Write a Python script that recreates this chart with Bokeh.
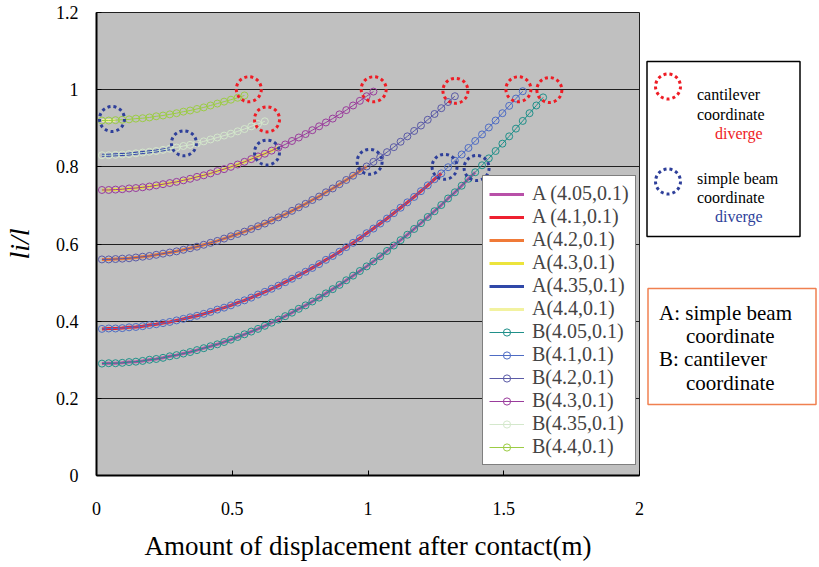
from bokeh.plotting import figure
from bokeh.layouts import row
from bokeh.models import Range1d, FixedTicker, Legend, LegendItem, Label, BoxAnnotation
from bokeh.embed import file_html
from bokeh.resources import INLINE

# ---------------- data ----------------
disp = [0.020, 0.045, 0.070, 0.095, 0.120, 0.145, 0.170, 0.195, 0.220, 0.245,
        0.270, 0.295, 0.320, 0.345, 0.370, 0.395, 0.420, 0.445, 0.470, 0.495,
        0.520, 0.545, 0.570, 0.595, 0.620, 0.645, 0.670, 0.695, 0.720, 0.745,
        0.770, 0.795, 0.820, 0.845, 0.870, 0.895, 0.920, 0.945, 0.970, 0.995,
        1.020, 1.045, 1.070, 1.095, 1.120, 1.145, 1.170, 1.195, 1.220, 1.245,
        1.270, 1.295, 1.320, 1.345, 1.370, 1.395, 1.420, 1.445, 1.470, 1.495,
        1.520, 1.545, 1.570, 1.595, 1.620, 1.645]

ratio_405 = [0.290, 0.291, 0.291, 0.292, 0.294, 0.295, 0.297, 0.300, 0.302, 0.305,
             0.309, 0.312, 0.316, 0.320, 0.325, 0.330, 0.335, 0.340, 0.346, 0.352,
             0.359, 0.366, 0.373, 0.380, 0.388, 0.396, 0.404, 0.413, 0.422, 0.432,
             0.441, 0.451, 0.461, 0.472, 0.483, 0.494, 0.506, 0.518, 0.530, 0.542,
             0.555, 0.568, 0.582, 0.596, 0.610, 0.624, 0.639, 0.654, 0.670, 0.685,
             0.701, 0.718, 0.734, 0.751, 0.769, 0.786, 0.804, 0.822, 0.841, 0.860,
             0.879, 0.899, 0.919, 0.939, 0.959, 0.980]
ratio_41 = [0.380, 0.381, 0.381, 0.382, 0.384, 0.385, 0.387, 0.390, 0.392, 0.395,
            0.398, 0.402, 0.406, 0.410, 0.414, 0.419, 0.424, 0.430, 0.435, 0.441,
            0.448, 0.454, 0.461, 0.469, 0.476, 0.484, 0.492, 0.501, 0.510, 0.519,
            0.528, 0.538, 0.548, 0.559, 0.569, 0.580, 0.592, 0.603, 0.615, 0.628,
            0.640, 0.653, 0.666, 0.680, 0.694, 0.708, 0.722, 0.737, 0.752, 0.768,
            0.783, 0.799, 0.816, 0.832, 0.849, 0.867, 0.884, 0.902, 0.920, 0.939,
            0.958, 0.977, 0.996]
ratio_42 = [0.560, 0.560, 0.561, 0.562, 0.563, 0.565, 0.567, 0.569, 0.572, 0.575,
            0.578, 0.581, 0.585, 0.589, 0.593, 0.598, 0.603, 0.608, 0.614, 0.620,
            0.626, 0.632, 0.639, 0.646, 0.653, 0.661, 0.669, 0.677, 0.686, 0.695,
            0.704, 0.714, 0.723, 0.734, 0.744, 0.755, 0.766, 0.777, 0.789, 0.801,
            0.813, 0.825, 0.838, 0.851, 0.865, 0.879, 0.893, 0.907, 0.922, 0.937,
            0.952, 0.968, 0.983]
ratio_43 = [0.740, 0.740, 0.741, 0.742, 0.744, 0.745, 0.747, 0.749, 0.752, 0.755,
            0.758, 0.761, 0.765, 0.769, 0.774, 0.778, 0.783, 0.789, 0.794, 0.800,
            0.806, 0.813, 0.820, 0.827, 0.834, 0.842, 0.850, 0.858, 0.867, 0.876,
            0.885, 0.895, 0.905, 0.915, 0.925, 0.936, 0.947, 0.959, 0.971, 0.983,
            0.995]
ratio_435 = [0.830, 0.830, 0.831, 0.832, 0.833, 0.835, 0.837, 0.839, 0.841, 0.844,
             0.847, 0.850, 0.854, 0.857, 0.861, 0.866, 0.871, 0.876, 0.881, 0.886,
             0.892, 0.898, 0.905, 0.911, 0.918]
ratio_44 = [0.920, 0.920, 0.921, 0.922, 0.923, 0.925, 0.926, 0.928, 0.931, 0.933,
            0.936, 0.939, 0.943, 0.946, 0.950, 0.954, 0.959, 0.964, 0.969, 0.974,
            0.979, 0.985]

series_ratio = [ratio_405, ratio_41, ratio_42, ratio_43, ratio_435, ratio_44]
# displacement where the simple beam (A) coordinate diverges
a_end = [1.395, 1.27, 0.995, 0.67, 0.27, 0.07]

a_labels = ["A (4.05,0.1)", "A (4.1,0.1)", "A(4.2,0.1)", "A(4.3,0.1)",
            "A(4.35,0.1)", "A(4.4,0.1)"]
b_labels = ["B(4.05,0.1)", "B(4.1,0.1)", "B(4.2,0.1)", "B(4.3,0.1)",
            "B(4.35,0.1)", "B(4.4,0.1)"]

# divergence markers
cant_div_x = [1.668, 1.554, 1.322, 1.021, 0.628, 0.561]
cant_div_y = [0.999, 1.001, 0.997, 1.001, 0.923, 1.001]
simp_div_x = [1.400, 1.282, 1.006, 0.628, 0.322, 0.057]
simp_div_y = [0.797, 0.800, 0.813, 0.837, 0.861, 0.924]

x_ticks = [0, 0.5, 1, 1.5, 2]
x_tick_labels = ["0", "0.5", "1", "1.5", "2"]
y_ticks = [0, 0.2, 0.4, 0.6, 0.8, 1.0, 1.2]
y_tick_labels = ["0", "0.2", "0.4", "0.6", "0.8", "1", "1.2"]

# ---------------- style ----------------
FONT = "Liberation Serif"
a_colors = ["#B850A8", "#EE2030", "#F07A38", "#ECE43C", "#3048A8", "#F2F2A0"]
b_colors = ["#20908A", "#4E6CC4", "#5A5AA6", "#9A3C9C", "#D4E8CC", "#9CCC44"]
RED = "#EE1C25"
BLUE = "#2E3F9A"

p = figure(frame_width=543, frame_height=463,
           x_range=Range1d(x_ticks[0], x_ticks[-1]), y_range=Range1d(y_ticks[0], y_ticks[-1]),
           output_backend="svg", toolbar_location=None,
           min_border_left=96, min_border_right=6,
           min_border_top=12, min_border_bottom=90,
           background_fill_color="#C0C0C0", border_fill_color="white",
           outline_line_color="#202020", outline_line_width=1)

p.xgrid.visible = False
p.ygrid.ticker = FixedTicker(ticks=y_ticks)
p.ygrid.grid_line_color = "#202020"
p.ygrid.grid_line_width = 1

p.xaxis.ticker = FixedTicker(ticks=x_ticks)
p.xaxis.major_label_overrides = dict(zip(x_ticks, x_tick_labels))
p.yaxis.ticker = FixedTicker(ticks=y_ticks)
p.yaxis.major_label_overrides = dict(zip(y_ticks, y_tick_labels))

for ax in (p.xaxis[0], p.yaxis[0]):
    ax.axis_line_color = "black"
    ax.axis_line_width = 2
    ax.major_tick_line_color = "black"
    ax.major_tick_in = 5
    ax.major_tick_out = 0
    ax.minor_tick_line_color = None
    ax.major_label_text_font = FONT
    ax.major_label_text_font_size = "18px"
    ax.major_label_text_color = "black"
    ax.axis_label_text_font = FONT
    ax.axis_label_text_color = "black"

p.xaxis.major_label_standoff = 26
p.xaxis.axis_label = "Amount of displacement after contact(m)"
p.xaxis.axis_label_text_font_size = "27px"
p.xaxis.axis_label_text_font_style = "normal"
p.xaxis.axis_label_standoff = 13

p.yaxis.major_label_standoff = 18
p.yaxis.axis_label = "li/l"
p.yaxis.axis_label_text_font_size = "28px"
p.yaxis.axis_label_text_font_style = "italic"
p.yaxis.axis_label_standoff = 18

a_renderers = []
b_renderers = []
for k, ys in enumerate(series_ratio):
    xs = disp[:len(ys)]
    xa = [x for x in xs if x <= a_end[k]]
    ya = ys[:len(xa)]
    a_renderers.append(p.line(xa, ya, line_color=a_colors[k], line_width=3))

for k, ys in enumerate(series_ratio):
    xs = disp[:len(ys)]
    rl = p.line(xs, ys, line_color=b_colors[k], line_width=1)
    rs = p.scatter(xs, ys, marker="circle", size=7, fill_color=None,
                   line_color=b_colors[k], line_width=1)
    b_renderers.append([rl, rs])

p.scatter(cant_div_x, cant_div_y, marker="circle", size=25, fill_color=None,
          line_color=RED, line_width=3, line_dash="3 3")
p.scatter(simp_div_x, simp_div_y, marker="circle", size=25, fill_color=None,
          line_color=BLUE, line_width=3, line_dash="3 3")

items = [LegendItem(label=a_labels[k], renderers=[a_renderers[k]]) for k in range(6)]
items += [LegendItem(label=b_labels[k], renderers=b_renderers[k]) for k in range(6)]
legend = Legend(items=items, location=(386, 10),
                label_text_font=FONT, label_text_font_size="20px",
                glyph_width=35, glyph_height=18, label_height=18,
                spacing=0, padding=6, margin=0, label_standoff=8,
                border_line_color="black", border_line_width=1,
                background_fill_color="white", background_fill_alpha=1)
p.add_layout(legend)

# ---------- side panel with the explanatory boxes (page-pixel coordinates) ----------
side = figure(frame_width=172, frame_height=540,
              x_range=Range1d(646.5, 818.5), y_range=Range1d(552, 12),
              output_backend="svg", toolbar_location=None,
              min_border=0, x_axis_location=None, y_axis_location=None,
              outline_line_color=None, background_fill_color="white",
              border_fill_color="white")
side.xgrid.visible = False
side.ygrid.visible = False

side.add_layout(BoxAnnotation(left=648, right=801, top=61, bottom=236,
                              fill_alpha=0, line_color="black", line_alpha=1,
                              line_width=1.5))
side.scatter([669], [86], marker="circle", size=25, fill_color=None,
             line_color=RED, line_width=3, line_dash="3 3")
side.scatter([669], [181], marker="circle", size=25, fill_color=None,
             line_color=BLUE, line_width=3, line_dash="3 3")

def note(x, y, text, size, color="black"):
    side.add_layout(Label(x=x, y=y, text=text,
                          text_font=FONT, text_font_size=size, text_color=color,
                          text_align="left", text_baseline="middle"))

note(698, 94, "cantilever", "16px")
note(698, 114, "coordinate", "16px")
note(716, 133, "diverge", "16px", RED)
note(698, 178, "simple beam", "16px")
note(698, 197, "coordinate", "16px")
note(716, 216, "diverge", "16px", BLUE)

side.add_layout(BoxAnnotation(left=649, right=817, top=288, bottom=404,
                              fill_alpha=0, line_color="#F08050", line_alpha=1,
                              line_width=1.5))
note(660, 312, "A: simple beam", "21px")
note(687, 335, "coordinate", "21px")
note(660, 358, "B: cantilever", "21px")
note(687, 382, "coordinate", "21px")

layout = row(p, side)
open("out.html", "w").write(file_html(layout, INLINE))
